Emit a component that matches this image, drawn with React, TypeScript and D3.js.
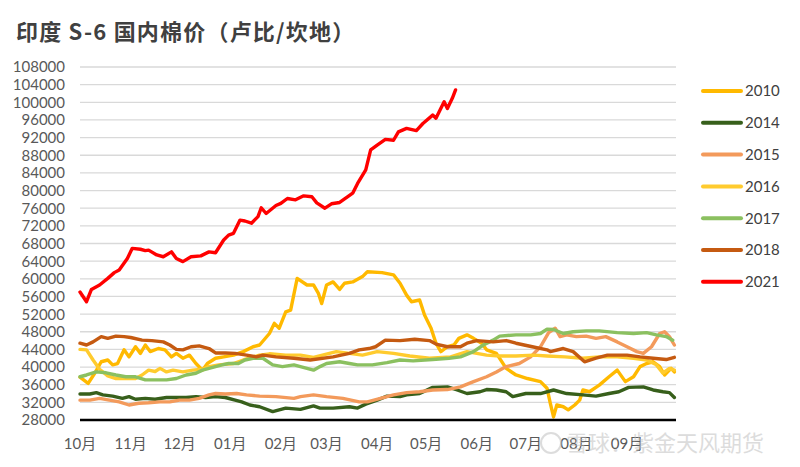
import React from "react";
import * as d3 from "d3";

// ---- data (day offset from Oct 1 of season start, price Rs/candy) ----
const seasonStart = new Date(2020, 9, 1);
const seasonEnd = new Date(2021, 9, 1);

const yTicks = [28000, 32000, 36000, 40000, 44000, 48000, 52000, 56000, 60000, 64000, 68000, 72000, 76000, 80000, 84000, 88000, 92000, 96000, 100000, 104000, 108000];
const monthLabels = ["10月", "11月", "12月", "01月", "02月", "03月", "04月", "05月", "06月", "07月", "08月", "09月"];

const s2010: [number, number][] = [
  [0, 37700], [5, 36300], [9, 38600], [13, 41200], [17, 41600], [20, 40500], [23, 40800], [27, 43900], [30, 42300], [34, 44600], [37, 43100], [40, 45000], [43, 43500], [48, 44200], [52, 43900], [56, 42300], [59, 43100], [63, 42000], [67, 42700], [71, 40800], [75, 39300], [78, 40800], [83, 42000], [88, 42300], [94, 42700], [100, 43500], [106, 44600], [110, 45000], [116, 47600], [119, 49900], [122, 48800], [126, 52500], [129, 52900], [133, 60100], [139, 58600], [143, 58600], [146, 56700], [148, 54400], [151, 58600], [155, 59300], [159, 57600], [162, 59000], [167, 59300], [173, 60500], [176, 61600], [185, 61400], [192, 60900], [196, 59000], [200, 56300], [203, 54800], [208, 55200], [211, 51800], [215, 48800], [218, 45400], [221, 43500], [225, 44600], [229, 45000], [232, 46500], [237, 47300], [241, 46500], [246, 45400], [249, 43900], [255, 43100], [261, 39700], [267, 38200], [274, 37400], [282, 36700], [286, 35200], [288, 31800], [290, 28700], [292, 31400], [296, 31000], [299, 30300], [303, 31400], [306, 32500], [308, 34800], [312, 34400], [318, 35900], [324, 37800], [329, 39300], [334, 36700], [339, 37800], [343, 40100], [347, 40800], [351, 41200], [355, 40100], [358, 38200], [362, 39700], [364, 38900],
];
const s2014: [number, number][] = [
  [0, 33900], [6, 33900], [10, 34200], [14, 33700], [20, 33400], [26, 32900], [30, 33300], [34, 32700], [40, 32900], [46, 32700], [53, 33100], [59, 33100], [65, 33100], [71, 33300], [77, 33100], [83, 33300], [89, 33100], [95, 32500], [99, 32100], [104, 31400], [110, 31000], [118, 29900], [126, 30700], [135, 30400], [143, 31200], [147, 30700], [155, 30700], [165, 31000], [170, 30700], [175, 31600], [182, 32500], [188, 33400], [196, 33300], [200, 33700], [208, 34000], [216, 35400], [225, 35500], [231, 34800], [237, 34000], [245, 34400], [249, 34900], [255, 34800], [261, 34400], [265, 33300], [273, 34000], [282, 34000], [290, 34800], [298, 34000], [308, 33700], [316, 33400], [324, 34000], [330, 34400], [336, 35400], [345, 35500], [351, 34800], [357, 34400], [361, 34200], [364, 33100],
];
const s2015: [number, number][] = [
  [0, 32500], [6, 32500], [12, 32900], [18, 32500], [24, 32100], [30, 31400], [36, 31800], [42, 31900], [49, 32100], [55, 32100], [61, 32500], [67, 32500], [73, 32900], [79, 33700], [83, 34000], [89, 33900], [96, 34000], [102, 33700], [110, 33400], [120, 33300], [131, 32900], [135, 33300], [143, 33700], [151, 33300], [161, 32900], [171, 32100], [176, 32100], [184, 32900], [192, 33700], [200, 34200], [208, 34400], [216, 34800], [225, 34900], [233, 35500], [241, 36700], [249, 37800], [255, 38900], [261, 40100], [269, 40800], [276, 42300], [282, 44600], [287, 47800], [291, 48800], [294, 46900], [298, 47300], [304, 46900], [310, 47000], [316, 46500], [322, 46900], [329, 45700], [335, 44600], [341, 43500], [345, 43100], [350, 44600], [355, 47600], [358, 48000], [361, 46900], [364, 45000],
];
const s2016: [number, number][] = [
  [0, 44000], [4, 43900], [8, 41600], [12, 39500], [17, 38000], [22, 37400], [28, 37400], [34, 37400], [38, 38200], [42, 39300], [46, 39000], [49, 39700], [53, 38900], [57, 39300], [63, 38900], [69, 39300], [75, 39500], [79, 40100], [85, 40500], [94, 40800], [100, 41600], [106, 42300], [110, 42700], [116, 43000], [126, 42700], [135, 42700], [143, 42200], [157, 43500], [173, 42700], [182, 43500], [192, 43100], [202, 42500], [214, 42000], [227, 42300], [237, 43500], [249, 42700], [257, 42500], [267, 42500], [278, 42700], [286, 42500], [297, 42300], [308, 42000], [318, 42300], [329, 42300], [339, 42000], [347, 41600], [353, 40500], [357, 38600], [361, 39700], [364, 39300],
];
const s2017: [number, number][] = [
  [0, 37800], [4, 38200], [10, 38900], [16, 38700], [22, 38200], [28, 37800], [34, 37800], [40, 37100], [47, 37100], [53, 37100], [59, 37400], [65, 38200], [71, 38600], [75, 39300], [79, 39700], [83, 40100], [87, 40500], [91, 40800], [97, 40800], [101, 41600], [106, 42000], [112, 42000], [118, 40500], [124, 40100], [131, 40500], [139, 39700], [143, 39300], [147, 40100], [151, 40800], [159, 41200], [165, 40800], [170, 40500], [179, 40500], [188, 41000], [196, 41600], [204, 41400], [216, 41700], [226, 42000], [233, 42300], [241, 43500], [247, 45000], [253, 46100], [257, 47000], [267, 47300], [276, 47300], [282, 47600], [286, 48600], [290, 48500], [296, 47600], [302, 48000], [310, 48200], [318, 48200], [329, 47800], [339, 47600], [347, 47800], [353, 47300], [359, 46900], [363, 46100],
];
const s2018: [number, number][] = [
  [0, 45400], [4, 45000], [8, 45700], [13, 46900], [17, 46500], [22, 47000], [27, 46900], [31, 46700], [38, 46100], [44, 46000], [51, 45700], [55, 45000], [59, 44000], [63, 43900], [68, 44600], [73, 44800], [79, 44200], [83, 43200], [89, 43200], [95, 43100], [102, 42700], [108, 42300], [112, 42700], [120, 42300], [131, 42000], [141, 41600], [155, 42300], [165, 43100], [171, 43900], [177, 44200], [181, 44600], [187, 46100], [196, 46000], [205, 46300], [214, 46000], [218, 45200], [225, 44600], [233, 44600], [237, 45400], [243, 46000], [253, 45700], [261, 46000], [267, 45400], [277, 44600], [286, 43900], [288, 43500], [296, 44200], [302, 43500], [309, 41200], [316, 42000], [323, 42700], [335, 42700], [343, 42300], [351, 42000], [359, 41700], [364, 42200],
];
const s2021: [number, number][] = [
  [0, 57000], [4, 54800], [7, 57600], [12, 58600], [17, 60100], [21, 61400], [24, 62000], [29, 64600], [32, 66900], [37, 66700], [40, 66400], [42, 66500], [47, 65400], [51, 65000], [56, 66100], [59, 64600], [63, 63900], [68, 65000], [74, 65200], [79, 66100], [83, 65900], [88, 68800], [91, 69900], [94, 70300], [98, 73300], [101, 73100], [105, 72600], [109, 74100], [111, 76100], [114, 74800], [120, 76600], [123, 77100], [127, 78200], [132, 77900], [137, 78800], [142, 78600], [145, 77200], [150, 76000], [154, 77000], [159, 77300], [164, 78600], [167, 79400], [170, 81600], [175, 84700], [178, 89200], [182, 90300], [187, 91600], [192, 91400], [195, 93300], [200, 94100], [206, 93600], [210, 95200], [216, 97100], [218, 96400], [223, 100100], [225, 98600], [228, 100900], [230, 102800],
];

const seriesNames = ["2010", "2014", "2015", "2016", "2017", "2018", "2021"];
const seriesData = [s2010, s2014, s2015, s2016, s2017, s2018, s2021];
const seriesColors = ["#FFB900", "#375F1B", "#F39A5B", "#FFCB2E", "#8BC060", "#C55A11", "#FF0000"];

const W = 800;
const H = 467;
const M = { left: 80, right: 676, top: 67, bottom: 420 };
const numFont = "Lato, 'Noto Sans CJK SC', sans-serif";

export default function App() {
  const x = d3.scaleTime().domain([seasonStart, seasonEnd]).range([M.left, M.right]);
  const y = d3.scaleLinear().domain([28000, 108000]).range([M.bottom, M.top]);
  const line = d3
    .line<[number, number]>()
    .x((d) => x(d3.timeDay.offset(seasonStart, d[0])))
    .y((d) => y(d[1]));
  const months = d3.timeMonth.range(seasonStart, seasonEnd);

  return (
    <svg width={W} height={H} style={{ position: "absolute", left: 0, top: 0, background: "#fff" }}>
      <rect width={W} height={H} fill="#fff" />
      <text x={16} y={40} fontFamily="'Noto Sans CJK SC', sans-serif" fontWeight={700} fontSize={22} letterSpacing={1.2} fill="#404040">
        印度 S-6 国内棉价（卢比/坎地）
      </text>
      {yTicks.map((t) => (
        <g key={t}>
          {t !== 28000 && (
            <line x1={M.left} x2={M.right} y1={y(t)} y2={y(t)} stroke="#D9D9D9" strokeWidth={1.3} />
          )}
          <text x={65} y={y(t)} dy="0.36em" textAnchor="end" fontFamily={numFont} fontSize={15} fill="#595959">
            {t}
          </text>
        </g>
      ))}
      {seriesData.map((s, i) => (
        <path
          key={seriesNames[i]}
          d={line(s) || ""}
          fill="none"
          stroke={seriesColors[i]}
          strokeWidth={3.4}
          strokeLinejoin="round"
          strokeLinecap="round"
        />
      ))}
      <line x1={M.left} x2={M.right} y1={y(28000)} y2={y(28000)} stroke="#000" strokeWidth={2.6} />
      {months.map((m, i) => (
        <text key={i} x={x(m)} y={449} textAnchor="middle" fontFamily={numFont} fontSize={15} fill="#595959">
          {monthLabels[i]}
        </text>
      ))}
      {seriesNames.map((n, i) => (
        <g key={n} transform={`translate(0, ${91 + i * 31.8})`}>
          <line x1={703} x2={741} y1={0} y2={0} stroke={seriesColors[i]} strokeWidth={4} strokeLinecap="round" />
          <text x={745} y={0} dy="0.36em" fontFamily={numFont} fontSize={15} fill="#404040">
            {n}
          </text>
        </g>
      ))}
      <g opacity={0.5}>
        <circle cx={551} cy={443} r={10} fill="none" stroke="#BBBBBB" strokeWidth={2} />
        <text x={566} y={451} fontFamily="'Noto Sans CJK SC', sans-serif" fontSize={22} fill="#BBBBBB">
          雪球：紫金天风期货
        </text>
      </g>
    </svg>
  );
}
